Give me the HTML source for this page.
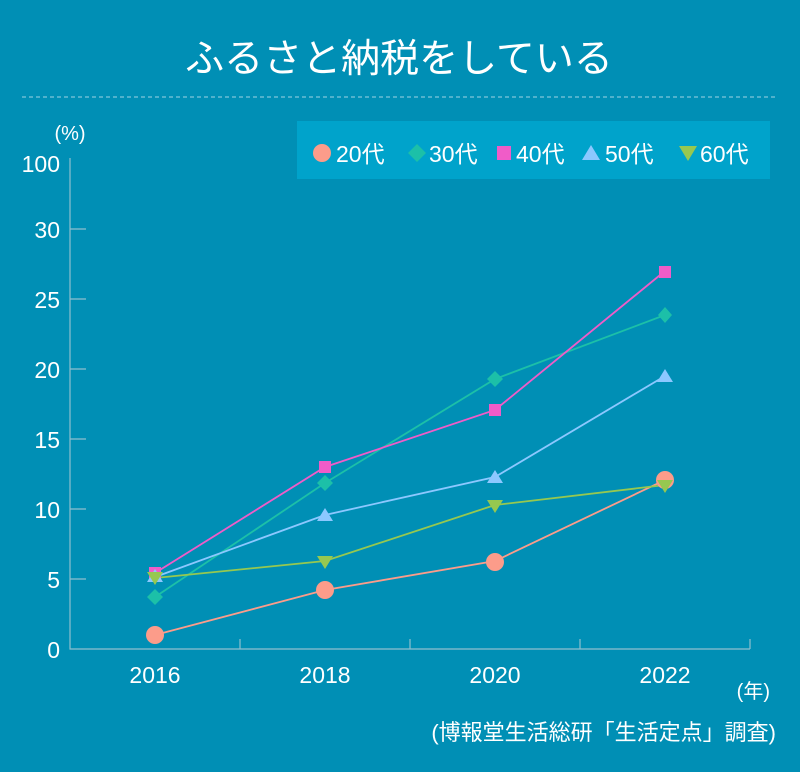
<!DOCTYPE html><html><head><meta charset="utf-8"><style>body{margin:0;background:#008fb5}svg{display:block}text{font-family:"Liberation Sans","Noto Sans CJK JP",sans-serif;fill:#fff}</style></head><body>
<svg width="800" height="772" viewBox="0 0 800 772">
<rect width="800" height="772" fill="#008fb5"/>
<text x="399" y="72" font-size="39" text-anchor="middle">ふるさと納税をしている</text>
<line x1="22" y1="97" x2="778" y2="97" stroke="#9fd3e3" stroke-width="1" stroke-dasharray="4,3"/>
<rect x="297" y="121" width="473" height="58" fill="#00a3cb"/>
<g font-size="23">
<circle cx="322" cy="153" r="9" fill="#fc9c8a"/><text x="336" y="162">20代</text>
<path d="M417 144L426 153L417 162L408 153Z" fill="#1cc0a8"/><text x="429" y="162">30代</text>
<rect x="497" y="146" width="14" height="14" fill="#f05cc8"/><text x="516" y="162">40代</text>
<path d="M591 145L600 160L582 160Z" fill="#8cc8ff"/><text x="605" y="162">50代</text>
<path d="M679 146L697 146L688 161Z" fill="#96c850"/><text x="700" y="162">60代</text>
</g>
<text x="70" y="140" font-size="20" text-anchor="middle">(%)</text>
<g stroke="#8fbfcf" stroke-width="1.2" fill="none">
<path d="M70 158V649H750"/>
<path d="M70 229H86M70 299H86M70 369H86M70 439H86M70 509H86M70 579H86M240 649V639M410 649V639M580 649V639M750 649V639"/>
</g>
<g font-size="23" text-anchor="end">
<text x="60" y="172">100</text><text x="60" y="238">30</text><text x="60" y="308">25</text><text x="60" y="378">20</text><text x="60" y="448">15</text><text x="60" y="518">10</text><text x="60" y="588">5</text><text x="60" y="658">0</text>
</g>
<g font-size="23" text-anchor="middle">
<text x="155" y="683">2016</text><text x="325" y="683">2018</text><text x="495" y="683">2020</text><text x="665" y="683">2022</text>
</g>
<text x="770" y="698" font-size="20" text-anchor="end">(年)</text>
<text x="776" y="740" font-size="22" text-anchor="end">(博報堂生活総研「生活定点」調査)</text>
<g fill="none" stroke-width="1.8">
<polyline points="155,635 325,590 495,561 665,480" stroke="#fc9c8a"/>
<polyline points="155,597 325,483 495,379 665,315" stroke="#1cc0a8"/>
<polyline points="155,573 325,467 495,410 665,271" stroke="#f05cc8"/>
<polyline points="155,577 325,515 495,477 665,376" stroke="#8cc8ff"/>
<polyline points="155,578 325,561 495,505 665,485" stroke="#96c850"/>
</g>
<g fill="#fc9c8a"><circle cx="155" cy="635" r="9"/><circle cx="325" cy="590" r="9"/><circle cx="495" cy="562" r="9"/><circle cx="665" cy="480" r="9"/></g>
<g fill="#1cc0a8"><path d="M155 589l8 8-8 8-8-8z"/><path d="M325 475l8 8-8 8-8-8z"/><path d="M495 371l8 8-8 8-8-8z"/><path d="M665 307l7 8-7 8-7-8z"/></g>
<g fill="#f05cc8"><rect x="149" y="567" width="12" height="12"/><rect x="319" y="461" width="12" height="12"/><rect x="489" y="404" width="12" height="12"/><rect x="659" y="266" width="12" height="12"/></g>
<g fill="#8cc8ff"><path d="M155 569l8 13h-16z"/><path d="M325 508l8 13h-16z"/><path d="M495 470l8 13h-16z"/><path d="M665 369l8 13h-16z"/></g>
<g fill="#96c850"><path d="M147 572h16l-8 13z"/><path d="M317 556h16l-8 13z"/><path d="M487 500h16l-8 13z"/><path d="M657 480h16l-8 13z"/></g>
</svg></body></html>
